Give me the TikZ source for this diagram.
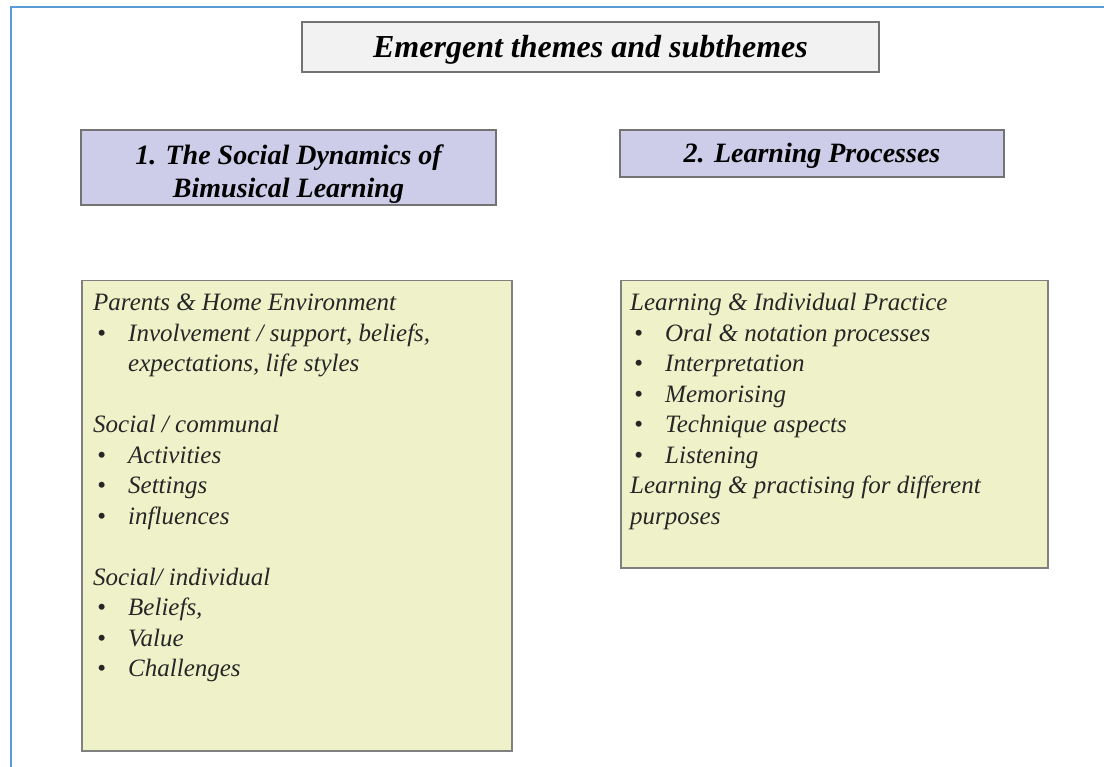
\documentclass[tikz,border=0pt]{standalone}
\usepackage{fontspec}
\setmainfont{Liberation Serif}
\usetikzlibrary{positioning}

\definecolor{frameblue}{HTML}{5B9BD5}
\definecolor{titlegray}{HTML}{F2F2F2}
\definecolor{themeblue}{HTML}{CDCDEA}
\definecolor{listyellow}{HTML}{EFF2C9}

% bullet with hanging indent
\newcommand{\bul}{\hspace*{4pt}\makebox[31pt][l]{\textbullet}}
\newcommand{\hang}{\hspace*{35pt}}

\begin{document}
\begin{tikzpicture}[x=1pt, y=-1pt, node distance=10pt]
    \tikzstyle{heading}=[rectangle, draw=black!55, fill=titlegray, line width=1.5pt]
    \tikzstyle{theme}=[rectangle, draw=black!55, fill=themeblue, line width=1.5pt]
    \tikzstyle{headtext}=[inner sep=0pt, align=center, font=\fontsize{28}{33}\selectfont\bfseries\itshape]
    \tikzstyle{listbox}=[rectangle, draw=black!50, fill=listyellow, line width=1.5pt, anchor=north west]
    \tikzstyle{listtext}=[inner sep=0pt, align=left, text=black!85, font=\fontsize{25}{30.5}\selectfont\itshape]

    \useasboundingbox (0,0) rectangle (1104,767);
    \draw[frameblue, line width=2pt] (11,767) -- (11,7) -- (1104,7);

    \node[heading, minimum width=577pt, minimum height=50pt] (title) at (590.5,47) {};
    \node[headtext, font=\fontsize{32}{36}\selectfont\bfseries\itshape, below=3pt of title.center, anchor=center] (titletext) {Emergent themes and subthemes};

    % theme headers, text sits a little low in the boxes
    \node[theme, minimum width=415pt, minimum height=75pt] (social) at (288.5,167.5) {};
    \node[headtext, below=7pt of social.center, anchor=center] (socialtext) {1. The Social Dynamics of\\Bimusical Learning};
    \node[theme, minimum width=384pt, minimum height=47pt] (learning) at (812,153.5) {};
    \node[headtext, below=2pt of learning.center, anchor=center] (learningtext) {2. Learning Processes};

    \node[listbox, minimum width=430pt, minimum height=470pt] (socialbox) at (81,280) {};
    \node[listtext, below right=14pt and 12pt of socialbox.north west] (sociallist) {%
      Parents \& Home Environment\\
      \bul Involvement / support, beliefs,\\
      \hang expectations, life styles\\[30.5pt]
      Social / communal\\
      \bul Activities\\
      \bul Settings\\
      \bul influences\\[30.5pt]
      Social/ individual\\
      \bul Beliefs,\\
      \bul Value\\
      \bul Challenges};

    \node[listbox, minimum width=427pt, minimum height=287pt] (learningbox) at (620,280) {};
    \node[listtext, below right=13pt and 10pt of learningbox.north west] (learninglist) {%
      Learning \& Individual Practice\\
      \bul Oral \& notation processes\\
      \bul Interpretation\\
      \bul Memorising\\
      \bul Technique aspects\\
      \bul Listening\\
      Learning \& practising for different\\
      purposes};
\end{tikzpicture}
\end{document}
